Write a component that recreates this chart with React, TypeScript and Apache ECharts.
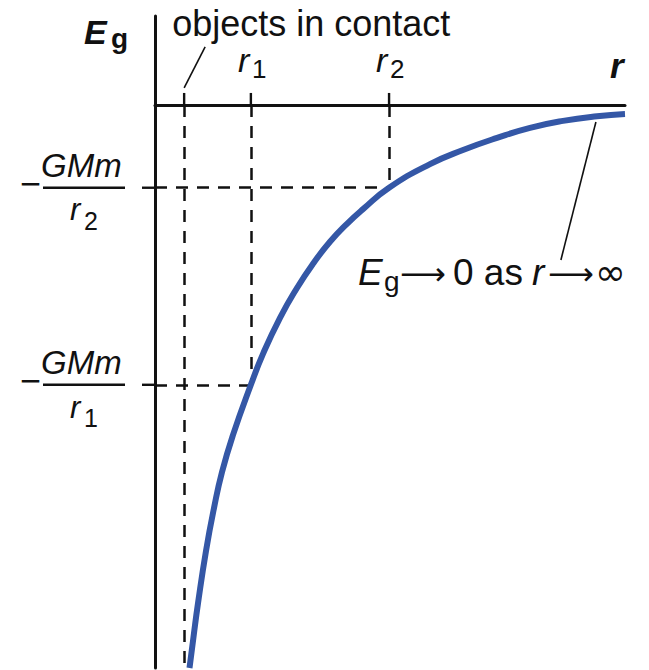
import React, { useEffect, useRef } from "react";
import * as echarts from "echarts";

// Separation r (arbitrary units) and gravitational potential energy E_g along the curve
const SEPARATION = [0.734, 0.819, 0.915, 1.085, 1.255, 1.426, 1.66, 2.04, 2.298, 2.66, 3.021, 3.362, 3.723, 4.085, 4.426, 4.98, 5.851, 6.553, 7.277, 7.979, 8.681, 9.404, 10.0];
const ENERGY = [-10.0, -9.45, -8.85, -7.92, -7.16, -6.52, -5.86, -4.97, -4.42, -3.78, -3.25, -2.82, -2.43, -2.11, -1.85, -1.47, -1.05, -0.8, -0.585, -0.407, -0.283, -0.2, -0.16];

// Separation where the objects touch, and the two marked separations with their energies
const CONTACT_R = 0.62;
const MARKED_R = [2.04, 4.98];
const MARKED_E = [-4.97, -1.47];
const MARKED_SUB = ["1", "2"];

const R_RANGE = [0, 10];
const E_RANGE = [-10, 1.58];

const INK = "#111111";
const CURVE = "#3457a6";
const SANS = '"Liberation Sans", Arial, Helvetica, sans-serif';
const SYMBOL = '"DejaVu Sans", sans-serif';

// text element positioned by its left edge and alphabetic baseline
function txt(text: string, left: number, baseline: number, size: number, extra: Record<string, any> = {}) {
  return {
    type: "text",
    silent: true,
    x: left,
    y: baseline - 0.3465 * size,
    style: {
      text,
      fontFamily: SANS,
      fontSize: size,
      fill: INK,
      align: "left",
      verticalAlign: "middle",
      ...extra,
    },
  };
}

function seg(x1: number, y1: number, x2: number, y2: number, width = 2.4) {
  return {
    type: "line",
    silent: true,
    shape: { x1, y1, x2, y2 },
    style: { stroke: INK, lineWidth: width },
  };
}

export default function App() {
  const ref = useRef<HTMLDivElement>(null);

  useEffect(() => {
    const chart = echarts.init(ref.current!, null, { renderer: "svg" });
    const dashed = { type: [12, 9], width: 2.5, color: INK };

    const guideLines: any[] = [
      [{ coord: [CONTACT_R, 0] }, { coord: [CONTACT_R, E_RANGE[0]] }],
    ];
    MARKED_R.forEach((r, i) => {
      guideLines.push([{ coord: [r, 0] }, { coord: [r, MARKED_E[i]] }]);
      guideLines.push([{ coord: [R_RANGE[0], MARKED_E[i]] }, { coord: [r, MARKED_E[i]] }]);
    });

    const axisCommon = {
      type: "value",
      axisLine: { show: true, onZero: true, lineStyle: { color: INK, width: 3 } },
      axisTick: { show: false },
      axisLabel: { show: false },
      splitLine: { show: false },
    };

    chart.setOption({
      animation: false,
      backgroundColor: "#ffffff",
      grid: { left: 155, right: 24, top: 16, bottom: 2 },
      xAxis: { ...axisCommon, min: R_RANGE[0], max: R_RANGE[1] },
      yAxis: { ...axisCommon, min: E_RANGE[0], max: E_RANGE[1] },
      series: [
        {
          type: "line",
          data: [],
          silent: true,
          markLine: {
            silent: true,
            symbol: "none",
            label: { show: false },
            lineStyle: dashed,
            data: guideLines,
          },
        },
        {
          type: "line",
          data: SEPARATION.map((r, i) => [r, ENERGY[i]]),
          smooth: 0.5,
          showSymbol: false,
          silent: true,
          z: 5,
          lineStyle: { color: CURVE, width: 6, cap: "butt" },
        },
      ],
    });

    const p = (r: number, e: number) => chart.convertToPixel({ gridIndex: 0 }, [r, e]) as number[];
    const [x0, y0] = p(R_RANGE[0], 0);
    const [xEnd] = p(R_RANGE[1], 0);
    const [xc] = p(CONTACT_R, 0);

    const elements: any[] = [];

    // short solid ticks above the r axis
    [CONTACT_R, ...MARKED_R].forEach((r) => {
      const [x] = p(r, 0);
      elements.push(seg(x, y0 - 12, x, y0 + 1));
    });

    // tick labels r1, r2
    MARKED_R.forEach((r, i) => {
      const [x] = p(r, 0);
      elements.push(txt("r", x - 13, y0 - 33, 34, { fontStyle: "italic" }));
      elements.push(txt(MARKED_SUB[i], x + 1, y0 - 27, 26));
    });

    // contact annotation
    elements.push(txt("objects in contact", xc - 12, y0 - 69, 36));
    elements.push(seg(xc, y0 - 17, xc + 21, y0 - 58, 1.6));

    // axis names
    elements.push(txt("r", xEnd - 15, y0 - 27, 35, { fontStyle: "italic", fontWeight: "bold" }));
    elements.push(txt("E", x0 - 71, y0 - 61, 34, { fontStyle: "italic", fontWeight: "bold" }));
    elements.push(txt("g", x0 - 44, y0 - 57, 28, { fontWeight: "bold" }));

    // fraction labels -GMm / r_i on the energy axis
    MARKED_E.forEach((e, i) => {
      const [, y] = p(R_RANGE[0], e);
      elements.push(seg(x0 - 13, y, x0 + 1, y, 2.4));
      elements.push({
        type: "text",
        silent: true,
        x: x0 - 135,
        y: y - 4,
        style: { text: "\u2212", fontFamily: SANS, fontSize: 36, fill: INK, align: "left", verticalAlign: "middle" },
      });
      elements.push(txt("GMm", x0 - 114, y - 11, 33, { fontStyle: "italic" }));
      elements.push(seg(x0 - 112, y, x0 - 30, y, 2.6));
      elements.push(txt("r", x0 - 85, y + 33, 31, { fontStyle: "italic" }));
      elements.push(txt(MARKED_SUB[i], x0 - 71, y + 42, 25));
    });

    // limiting behaviour annotation
    const [xa, ya] = p(9.7, 0);
    elements.push(seg(xa - 15, ya + 17, xa - 50, ya + 155, 1.6));
    const base = y0 + 180;
    elements.push(txt("E", xEnd - 267, base, 37, { fontStyle: "italic" }));
    elements.push(txt("g", xEnd - 241, base + 6, 28));
    elements.push(txt("\u27F6", xEnd - 225, base, 32, { fontFamily: SYMBOL }));
    elements.push(txt("0 as", xEnd - 172, base, 37));
    elements.push(txt("r", xEnd - 93, base, 37, { fontStyle: "italic" }));
    elements.push(txt("\u27F6", xEnd - 77, base, 32, { fontFamily: SYMBOL }));
    elements.push(txt("\u221E", xEnd - 30, base, 37, { fontFamily: SYMBOL }));

    chart.setOption({ graphic: { elements } });

    return () => chart.dispose();
  }, []);

  return (
    <div
      ref={ref}
      style={{ position: "absolute", left: 0, top: 0, width: 649, height: 670, background: "#ffffff" }}
    />
  );
}
